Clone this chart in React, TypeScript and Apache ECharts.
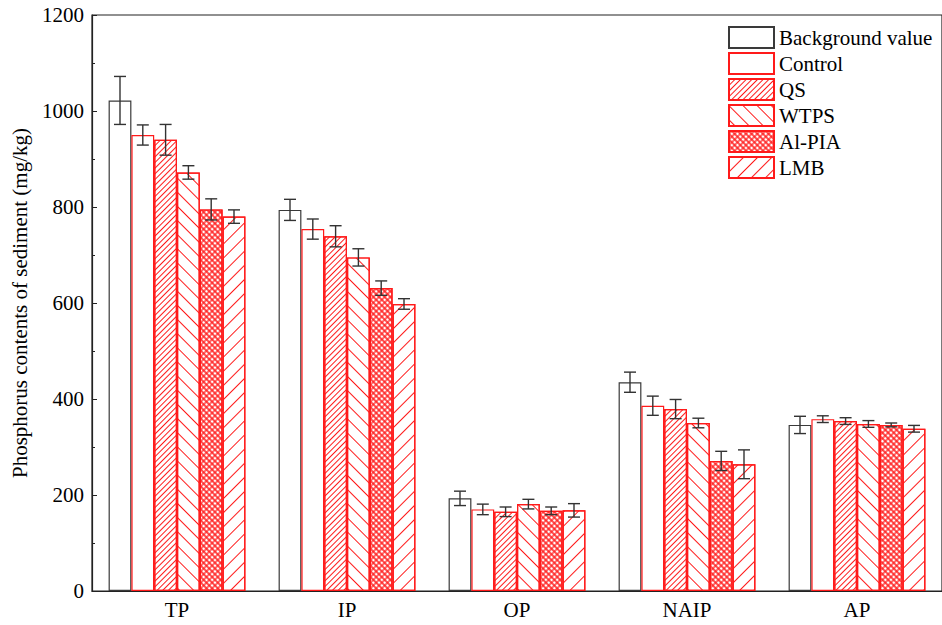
import React, { useEffect, useRef } from "react";
import * as echarts from "echarts";

const categories = ["TP", "IP", "OP", "NAIP", "AP"];
const seriesNames = ["Background value", "Control", "QS", "WTPS", "Al-PIA", "LMB"];

const backgroundVals = [1022, 794, 193, 435, 346];
const backgroundErr = [50, 22, 15, 21, 18];
const controlVals = [950, 754, 170, 386, 358];
const controlErr = [21, 21, 11, 20, 7];
const qsVals = [940, 739, 165, 379, 354];
const qsErr = [32, 22, 10, 20, 7];
const wtpsVals = [872, 695, 181, 350, 348];
const wtpsErr = [14, 18, 10, 10, 7];
const alpiaVals = [795, 631, 167, 271, 346];
const alpiaErr = [22, 15, 8, 20, 4];
const lmbVals = [780, 598, 168, 264, 338];
const lmbErr = [14, 11, 14, 30, 7];

const allVals = [backgroundVals, controlVals, qsVals, wtpsVals, alpiaVals, lmbVals];
const allErr = [backgroundErr, controlErr, qsErr, wtpsErr, alpiaErr, lmbErr];

const FONT = "'Liberation Serif', 'Times New Roman', serif";
const RED = "#ff1a1a";
const BAR_W = 22.8;

const CROSS = "path://M0,3.4 L10,3.4 L10,6.6 L0,6.6 Z M3.4,0 L6.6,0 L6.6,10 L3.4,10 Z";

const decals: any[] = [
  null,
  null,
  { symbol: "rect", symbolSize: 1, color: RED, dashArrayX: [1, 0], dashArrayY: [1, 3], rotation: -Math.PI / 4 },
  { symbol: "rect", symbolSize: 1, color: RED, dashArrayX: [1, 0], dashArrayY: [1, 9], rotation: Math.PI / 4 },
  { symbol: CROSS, symbolSize: 1, color: RED, dashArrayX: [4, 0], dashArrayY: [4, 0], rotation: Math.PI / 4 },
  { symbol: "rect", symbolSize: 1, color: RED, dashArrayX: [1, 0], dashArrayY: [1, 9], rotation: -Math.PI / 4 },
];

export default function App() {
  const ref = useRef<HTMLDivElement>(null);
  useEffect(() => {
    if (!ref.current) return;
    const chart = echarts.init(ref.current, null, { renderer: "svg" });
    const barSeries = seriesNames.map((name, i) => {
      const itemStyle: any = {
        color: "#fff",
        borderColor: i === 0 ? "#3a3a3a" : RED,
        borderWidth: 1.2,
      };
      if (decals[i]) itemStyle.decal = decals[i];
      return {
        name,
        type: "bar",
        barWidth: BAR_W,
        barGap: "0%",
        data: allVals[i],
        itemStyle,
        z: 2,
      };
    });
    const errSeries = seriesNames.map((name, i) => ({
      name: "err-" + name,
      type: "custom",
      z: 5,
      data: allVals[i].map((v, k) => [k, v, allErr[i][k]]),
      encode: { x: 0, y: 1 },
      renderItem: (params: any, api: any) => {
        const c = api.value(0);
        const v = api.value(1);
        const e = api.value(2);
        const off = (i - 2.5) * BAR_W;
        const top = api.coord([c, v + e]);
        const bot = api.coord([c, v - e]);
        const x = top[0] + off;
        const cap = 6;
        const style = { stroke: "#333", lineWidth: 1.4 };
        return {
          type: "group",
          children: [
            { type: "line", shape: { x1: x, y1: top[1], x2: x, y2: bot[1] }, style },
            { type: "line", shape: { x1: x - cap, y1: top[1], x2: x + cap, y2: top[1] }, style },
            { type: "line", shape: { x1: x - cap, y1: bot[1], x2: x + cap, y2: bot[1] }, style },
          ],
        };
      },
    }));
    chart.setOption({
      animation: false,
      backgroundColor: "#fff",
      grid: {
        left: 92,
        right: -2,
        top: 15,
        bottom: 34,
        show: true,
        borderColor: "#222",
        borderWidth: 1.2,
        backgroundColor: "transparent",
      },
      legend: {
        data: seriesNames,
        orient: "vertical",
        left: 723,
        top: 21,
        itemWidth: 45,
        itemHeight: 21,
        itemGap: 3,
        icon: "rect",
        textStyle: { fontFamily: FONT, fontSize: 21, lineHeight: 21, color: "#000" },
      },
      xAxis: {
        type: "category",
        data: categories,
        axisLine: { lineStyle: { color: "#222", width: 1.2 } },
        axisTick: { inside: true, alignWithLabel: true, length: 5, lineStyle: { color: "#222" } },
        axisLabel: { fontFamily: FONT, fontSize: 21, color: "#000", margin: 8 },
        splitLine: { show: false },
      },
      yAxis: {
        type: "value",
        min: 0,
        max: 1200,
        interval: 200,
        name: "Phosphorus contents of sediment (mg/kg)",
        nameLocation: "middle",
        nameGap: 62,
        nameTextStyle: { fontFamily: FONT, fontSize: 21, color: "#000" },
        axisLine: { show: true, lineStyle: { color: "#222", width: 1.2 } },
        axisTick: { show: true, inside: true, length: 5, lineStyle: { color: "#222" } },
        minorTick: { show: true, splitNumber: 2, length: 3, lineStyle: { color: "#222" } },
        axisLabel: {
          fontFamily: FONT,
          fontSize: 21,
          color: "#000",
          margin: 8,
          formatter: (v: number) => String(v),
        },
        splitLine: { show: false },
      },
      series: [...barSeries, ...errSeries],
    });
    return () => chart.dispose();
  }, []);
  return <div ref={ref} style={{ width: 942, height: 625, position: "absolute", left: 0, top: 0 }} />;
}
